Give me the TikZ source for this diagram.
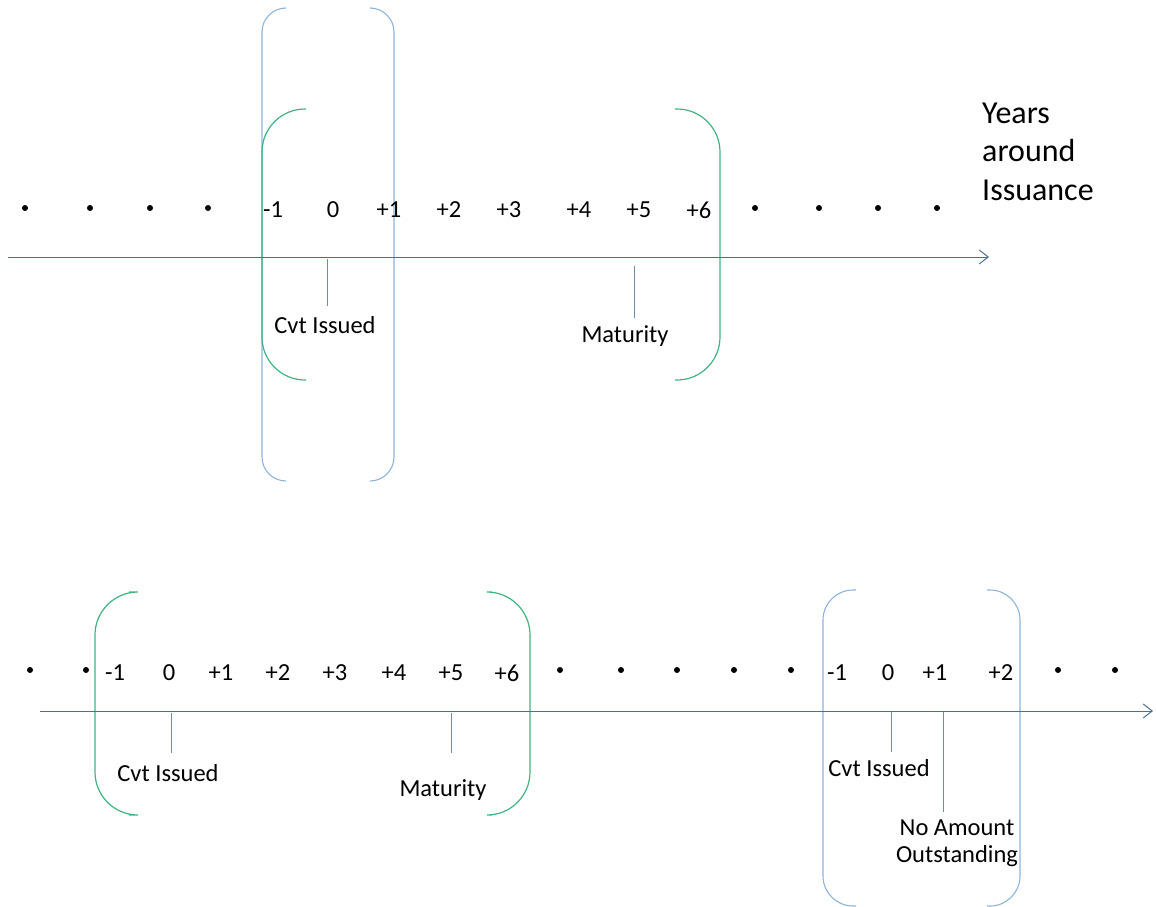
\documentclass[tikz,border=0pt]{standalone}
\usepackage{fontspec}
\setmainfont{Carlito}
\usetikzlibrary{arrows.meta}
\definecolor{axiscol}{HTML}{4F6F8F}
\definecolor{bluebr}{HTML}{8DB3D9}
\definecolor{greenbr}{HTML}{3DB57F}
\tikzset{
  axisline/.style={draw=axiscol, line width=1pt, -{Straight Barb[length=9pt,width=14pt]}},
  tickline/.style={draw=axiscol!80, line width=0.8pt},
  lbl/.style={font=\fontsize{24.5}{29}\selectfont, inner sep=0pt, anchor=center},
  bigtxt/.style={font=\fontsize{32}{38}\selectfont, inner sep=0pt, anchor=base west},
  dotnode/.style={circle, fill=black, inner sep=0pt, minimum size=6pt},
  bluebracket/.style={draw=bluebr, line width=1.1pt, rounded corners=24pt},
  greenbracket/.style={draw=greenbr, line width=1.2pt, rounded corners=43pt},
}
\begin{document}
\begin{tikzpicture}[x=1pt,y=-1pt]
\useasboundingbox (0,0) rectangle (1156,907);

% ---------------- top timeline ----------------
\draw[bluebracket] (286,8) -- (262,8) -- (262,481) -- (286,481);
\draw[bluebracket] (371,8) -- (394,8) -- (394,481) -- (371,481);
\draw[greenbracket] (306,109) -- (262,109) -- (262,380) -- (306,380);
\draw[greenbracket] (675,109) -- (720,109) -- (720,380) -- (675,380);

\coordinate (a1s) at (8,257);
\coordinate (a1e) at (989,257);
\draw[axisline] (a1s) -- (a1e);

\foreach \x [count=\i] in {25,90,150,208,755,819,878,937}
  \node[dotnode] (td\i) at (\x,208) {};

\foreach \x/\t [count=\i] in {273/-1,333/0,389/+1,449/+2,509/+3,579/+4,639/+5,699/+6}
  \node[lbl] (tl\i) at (\x,210) {\t};

\node[bigtxt] (years1) at (982,123) {Years};
\node[bigtxt] (years2) at (982,161.5) {around};
\node[bigtxt] (years3) at (982,200) {Issuance};

\coordinate (t1a) at (327,259);
\coordinate (t1b) at (327,306);
\draw[tickline] (t1a) -- (t1b);
\node[lbl] (cvt1) at (325,325) {Cvt Issued};

\coordinate (t2a) at (634,266);
\coordinate (t2b) at (634,318);
\draw[tickline] (t2a) -- (t2b);
\node[lbl] (mat1) at (625,336) {Maturity};

% ---------------- bottom timeline ----------------
\draw[greenbracket] (129,592) -- (95,592) -- (95,815) -- (129,815);
\draw[greenbracket] (492,592) -- (530,592) -- (530,815) -- (492,815);
\draw[bluebracket, rounded corners=30pt] (856,590) -- (823,590) -- (823,906) -- (856,906);
\draw[bluebracket, rounded corners=30pt] (987,590) -- (1020,590) -- (1020,906) -- (987,906);

\coordinate (a2s) at (40,711);
\coordinate (a2e) at (1153,711);
\draw[axisline] (a2s) -- (a2e);

\foreach \x [count=\i] in {30,86,560,621,677,734,791,1058,1115}
  \node[dotnode] (bd\i) at (\x,670) {};

\foreach \x/\t [count=\i] in {115/-1,169/0,221/+1,278/+2,335/+3,394/+4,451/+5,507/+6,837/-1,888/0,935/+1,1001/+2}
  \node[lbl] (bl\i) at (\x,673) {\t};

\coordinate (b1a) at (171,713);
\coordinate (b1b) at (171,753);
\draw[tickline] (b1a) -- (b1b);
\node[lbl] (cvt2) at (168,773) {Cvt Issued};

\coordinate (b2a) at (451,713);
\coordinate (b2b) at (451,753);
\draw[tickline] (b2a) -- (b2b);
\node[lbl] (mat2) at (443,790) {Maturity};

\coordinate (b3a) at (891,712);
\coordinate (b3b) at (891,752);
\draw[tickline] (b3a) -- (b3b);
\node[lbl] (cvt3) at (879,768) {Cvt Issued};

\coordinate (b4a) at (943,712);
\coordinate (b4b) at (943,812);
\draw[tickline] (b4a) -- (b4b);
\node[font=\fontsize{24.5}{27.5}\selectfont, align=center, inner sep=0pt] (noamt) at (957,843) {No Amount\\Outstanding};
\end{tikzpicture}
\end{document}
